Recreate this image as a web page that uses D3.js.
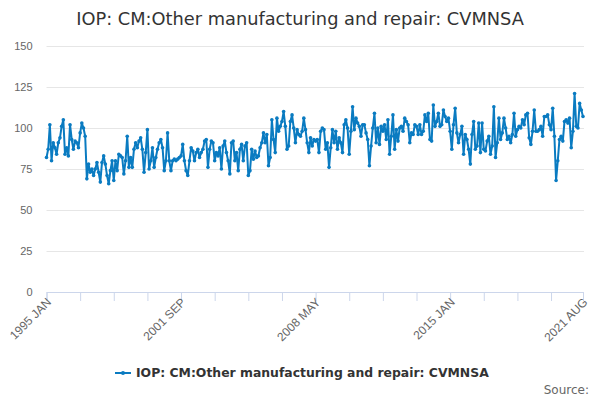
<!DOCTYPE html>
<html>
<head>
<meta charset="utf-8">
<script src="https://cdn.jsdelivr.net/npm/d3@7"></script>
<style>
  body { margin: 0; background: #fff; font-family: "DejaVu Sans", sans-serif; }
  .grid line { stroke: #e6e6e6; }
  .grid path { display: none; }
</style>
</head>
<body>
<div id="chart"></div>
<script>
const title = 'IOP: CM:Other manufacturing and repair: CVMNSA';
const seriesName = 'IOP: CM:Other manufacturing and repair: CVMNSA';
const startYear = 1995;
const monthNames = ['JAN','FEB','MAR','APR','MAY','JUN','JUL','AUG','SEP','OCT','NOV','DEC'];
const tickLabels = ['1995 JAN', '2001 SEP', '2008 MAY', '2015 JAN', '2021 AUG'];
const yTicks = [0, 25, 50, 75, 100, 125, 150];

// monthly index values, 1995 JAN .. 2021 AUG
const values = [
  82, 87, 102, 80, 91, 88, 84, 91, 94, 101, 105, 84,
  88, 83, 102, 93, 87, 92, 91, 88, 97, 103, 100, 95,
  69, 78, 73, 75, 71, 75, 79, 73, 67, 79, 83, 78,
  71, 66, 74, 80, 68, 80, 74, 84, 83, 82, 72, 80,
  95, 76, 82, 76, 87, 91, 88, 92, 94, 87, 73, 85,
  99, 75, 80, 88, 76, 82, 87, 91, 93, 88, 74, 80,
  97, 80, 74, 80, 81, 80, 81, 82, 83, 90, 80, 74,
  71, 80, 88, 86, 80, 85, 87, 82, 85, 87, 92, 93,
  76, 87, 92, 91, 80, 85, 83, 88, 75, 89, 92, 85,
  80, 72, 91, 92, 80, 85, 74, 87, 90, 80, 89, 91,
  71, 74, 87, 81, 86, 82, 83, 88, 91, 97, 91, 96,
  77, 82, 105, 93, 85, 106, 98, 101, 104, 110, 101, 87,
  89, 104, 108, 100, 91, 99, 96, 95, 98, 106, 99, 91,
  85, 94, 89, 93, 92, 93, 85, 98, 100, 99, 87, 91,
  76, 88, 99, 91, 98, 87, 94, 91, 85, 102, 105, 100,
  84, 98, 113, 99, 106, 103, 101, 95, 102, 102, 97, 93,
  77, 89, 100, 109, 91, 100, 90, 101, 98, 102, 93, 105,
  84, 95, 108, 87, 99, 92, 100, 101, 98, 106, 104, 102,
  91, 97, 96, 102, 101, 96, 102, 96, 98, 108, 104, 109,
  93, 92, 114, 101, 104, 109, 101, 102, 111, 107, 104, 106,
  98, 87, 102, 112, 97, 91, 96, 101, 84, 96, 93, 87,
  78, 96, 104, 87, 89, 103, 85, 103, 87, 86, 92, 95,
  84, 89, 113, 82, 91, 106, 93, 97, 106, 100, 93, 95,
  91, 96, 109, 95, 99, 101, 100, 105, 102, 108, 109, 94,
  90, 98, 111, 98, 98, 99, 101, 95, 107, 107, 108, 102,
  99, 112, 95, 68, 80, 93, 95, 92, 104, 105, 103, 106,
  88, 98, 121, 101, 100, 115, 111, 107
];

const categories = values.map((v, i) =>
  (startYear + Math.floor(i / 12)) + ' ' + monthNames[i % 12]);

const width = 600;
const height = 400;
const margin = {top: 46, right: 17, bottom: 108, left: 46.5};

const svg = d3.select('#chart')
  .append('svg')
  .attr('width', width)
  .attr('height', height);

svg.append('text')
  .attr('x', width / 2)
  .attr('y', 25)
  .attr('text-anchor', 'middle')
  .attr('fill', '#333')
  .style('font-size', '17.8px')
  .text(title);

const x = d3.scaleLinear()
  .domain([0, values.length - 1])
  .range([margin.left, width - margin.right]);

const y = d3.scaleLinear()
  .domain([0, 150])
  .range([height - margin.bottom, margin.top]);

// gridlines + y labels
const yAxis = svg.append('g')
  .attr('class', 'grid')
  .attr('transform', `translate(${margin.left},0)`)
  .call(d3.axisLeft(y).tickValues(yTicks).tickSize(-(width - margin.left - margin.right + 1)).tickPadding(14));
yAxis.selectAll('text')
  .attr('fill', '#666')
  .style('font-size', '11px');

// x axis: tick every 20 months, plus the last month
const tickIdx = d3.range(0, values.length, 20).concat([values.length - 1]);
const xAxis = svg.append('g')
  .attr('transform', `translate(0,${height - margin.bottom})`)
  .call(d3.axisBottom(x).tickValues(tickIdx).tickSize(9).tickFormat(i =>
    tickLabels.includes(categories[i]) ? categories[i] : ''));
xAxis.select('.domain').attr('stroke', '#ccd6eb');
xAxis.selectAll('.tick line').attr('stroke', '#ccd6eb');
xAxis.selectAll('text')
  .attr('fill', '#666')
  .style('font-size', '12px')
  .attr('text-anchor', 'end')
  .attr('transform', 'translate(2,8) rotate(-45)')
  .attr('dy', '0.35em')
  .attr('y', 0)
  .attr('x', 0);

const line = d3.line()
  .x((d, i) => x(i))
  .y(d => y(d));

const color = '#0a7bc1';

svg.append('path')
  .datum(values)
  .attr('fill', 'none')
  .attr('stroke', color)
  .attr('stroke-width', 2)
  .attr('stroke-linejoin', 'round')
  .attr('d', line);

svg.append('g')
  .selectAll('circle')
  .data(values)
  .join('circle')
  .attr('cx', (d, i) => x(i))
  .attr('cy', d => y(d))
  .attr('r', 1.8)
  .attr('fill', color);

// legend
const legend = svg.append('g').attr('transform', 'translate(115,373)');
legend.append('line')
  .attr('x1', 0).attr('x2', 16)
  .attr('stroke', color)
  .attr('stroke-width', 2);
legend.append('circle')
  .attr('cx', 8).attr('r', 2)
  .attr('fill', color);
legend.append('text')
  .attr('x', 21)
  .attr('dy', '0.35em')
  .attr('fill', '#333')
  .style('font-size', '12.4px')
  .style('font-weight', 'bold')
  .text(seriesName);

svg.append('text')
  .attr('x', 589)
  .attr('y', 394)
  .attr('text-anchor', 'end')
  .attr('fill', '#666')
  .style('font-size', '12px')
  .text('Source:');
</script>
</body>
</html>
